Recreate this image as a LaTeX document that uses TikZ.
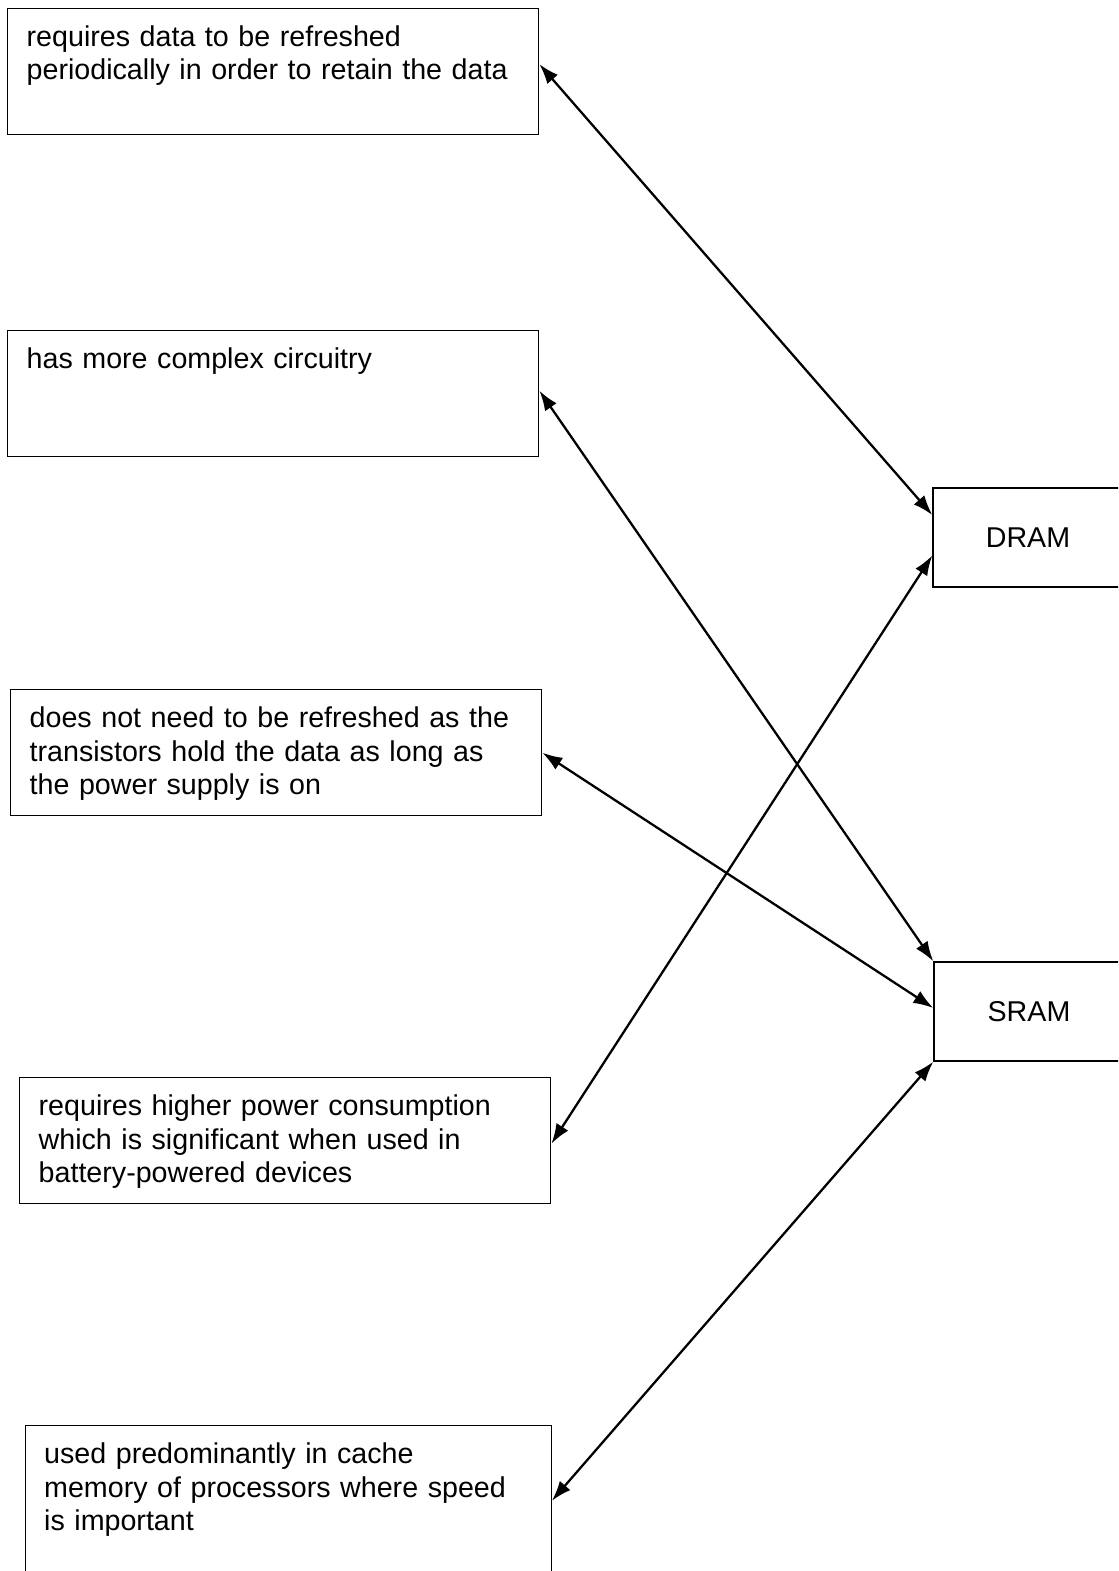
\documentclass[tikz,border=0pt]{standalone}
\usepackage{fontspec}
\setmainfont{Liberation Sans}
\usepackage{tikz}
\usetikzlibrary{arrows.meta,positioning}
\tikzset{
  descbox/.style={
    rectangle, draw=black, line width=0.8pt, anchor=north west,
    text width=#1, align=left, inner xsep=0.38cm, inner ysep=0.2cm,
    text height=0.56cm, text depth=1.56cm,
    font=\fontsize{16.3}{19}\selectfont
  },
  descbox/.default=9.86cm,
  ramblock/.style={
    rectangle, draw=black, line width=0.8pt,
    minimum width=3.8cm, minimum height=1.98cm,
    font=\fontsize{16.3}{19}\selectfont
  },
  linkarrow/.style={
    {Latex[length=0.4cm,width=0.28cm]}-{Latex[length=0.4cm,width=0.28cm]},
    line width=1.3pt
  },
}
\begin{document}
\begin{tikzpicture}
  \useasboundingbox (0,0) rectangle (22.36,-31.42);
  \clip (0,0) rectangle (22.36,-31.42);

  % Statements on the left
  \node[descbox] (refresh) at (0.14,-0.15)
    {requires data to be refreshed\\periodically in order to retain the data};
  \node[descbox] (complex) at (0.14,-6.6)
    {has more complex circuitry};
  \node[descbox] (hold) at (0.20,-13.78)
    {does not need to be refreshed as the\\transistors hold the data as long as\\the power supply is on};
  \node[descbox] (power) at (0.38,-21.54)
    {requires higher power consumption\\which is significant when used in\\battery-powered devices};
  \node[descbox=9.76cm, text depth=2.04cm] (cache) at (0.49,-28.5)
    {used predominantly in cache\\memory of processors where speed\\is important};

  % Memory types on the right
  \node[ramblock] (dram) at (20.56,-10.75) {DRAM};
  \node[ramblock] (sram) at (20.58,-20.23) {SRAM};

  % Matching lines
  \draw[linkarrow] ([yshift=0.14cm]refresh.east) -- ([yshift=0.45cm]dram.west);
  \draw[linkarrow] ([yshift=0.06cm]complex.east) -- (sram.north west);
  \draw[linkarrow] (hold.east) -- ([yshift=0.07cm]sram.west);
  \draw[linkarrow] ([yshift=-0.06cm]power.east) -- ([yshift=-0.36cm]dram.west);
  \draw[linkarrow] (cache.east) -- (sram.south west);
\end{tikzpicture}
\end{document}
